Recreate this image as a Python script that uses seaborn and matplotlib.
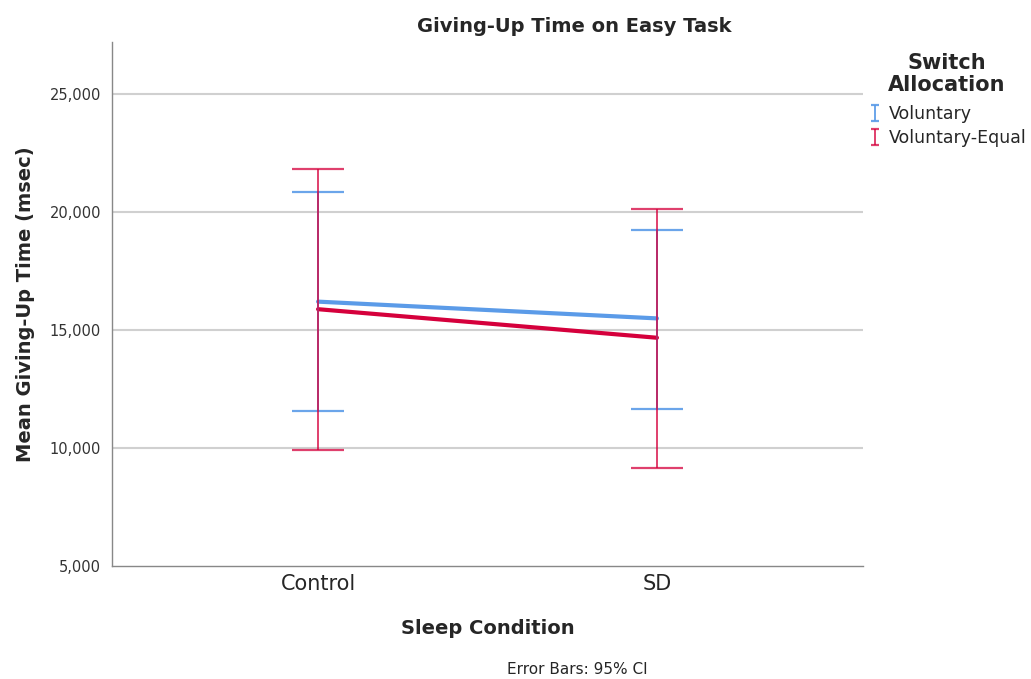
import matplotlib
matplotlib.use("Agg")
import matplotlib.pyplot as plt
import seaborn as sns
import pandas as pd
from matplotlib.ticker import FuncFormatter
from matplotlib.legend_handler import HandlerErrorbar
from matplotlib.lines import Line2D

# ---- data ----
conditions = ["Control", "SD"]
groups = ["Voluntary", "Voluntary-Equal"]
mean_voluntary = [16200, 15490]
mean_vol_equal = [15880, 14670]
ci_low_voluntary = [11570, 11670]
ci_high_voluntary = [20850, 19240]
ci_low_vol_equal = [9930, 9170]
ci_high_vol_equal = [21810, 20130]
yticks = [5000, 10000, 15000, 20000, 25000]

colors = {"Voluntary": "#5b9be8", "Voluntary-Equal": "#d5003c"}

df = pd.DataFrame({
    "Sleep Condition": conditions * 2,
    "Switch Allocation": [groups[0]] * 2 + [groups[1]] * 2,
    "Mean": mean_voluntary + mean_vol_equal,
    "Low": ci_low_voluntary + ci_low_vol_equal,
    "High": ci_high_voluntary + ci_high_vol_equal,
})

sns.set_style("white")
plt.rcParams['font.family'] = ['DejaVu Sans']

fig = plt.figure(figsize=(10.31, 6.79), dpi=100)
ax = fig.add_axes([112/1031, 1-566/679, (863-112)/1031, (566-42)/679])

sns.lineplot(data=df, x="Sleep Condition", y="Mean", hue="Switch Allocation",
             palette=colors, linewidth=3.0, ax=ax, legend=False, zorder=4, sort=False)

handles = []
for g, a in zip(groups, [0.9, 0.75]):
    sub = df[df["Switch Allocation"] == g]
    yerr = [sub["Mean"] - sub["Low"], sub["High"] - sub["Mean"]]
    c = ax.errorbar(sub["Sleep Condition"], sub["Mean"], yerr=yerr, fmt="none",
                    ecolor=colors[g], elinewidth=1.4, capsize=19, capthick=1.6,
                    alpha=a, zorder=5, label=g)
    handles.append(c)

ax.set_xlim(-0.608, 1.608)
ax.set_ylim(5000, 27200)
ax.set_yticks(yticks)
ax.yaxis.set_major_formatter(FuncFormatter(lambda v, p: f"{int(v):,}"))
ax.tick_params(axis="y", labelsize=10.5, length=0, pad=8, colors="#333333")
ax.tick_params(axis="x", labelsize=15, length=0, pad=6)
for t in yticks[1:]:
    ax.axhline(t, color="#d0d0d0", lw=1.5, zorder=1)
for s in ["top", "right"]:
    ax.spines[s].set_visible(False)
for s in ["left", "bottom"]:
    ax.spines[s].set_color("#888888")
    ax.spines[s].set_linewidth(1.0)

ax.set_xlabel("Sleep Condition", fontsize=14, fontweight="bold", labelpad=18)
ax.set_ylabel("Mean Giving-Up Time (msec)", fontsize=14, fontweight="bold", labelpad=10)

fig.text(574/1031, 1-26/679, "Giving-Up Time on Easy Task", ha="center", va="center",
         fontsize=14, fontweight="bold")
fig.text(577/1031, 1-670/679, "Error Bars: 95% CI", ha="center", va="center", fontsize=11)

# legend title
fig.text(947/1031, 1-74/679, "Switch\nAllocation", ha="center", va="center",
         fontsize=15, fontweight="bold", linespacing=1.1)


def small_caps(legend_artist, orig):
    legend_artist.update_from(orig)
    if isinstance(legend_artist, Line2D):
        legend_artist.set_markersize(6)
        legend_artist.set_markeredgewidth(1.6)


hmap = {h: HandlerErrorbar(yerr_size=0.45, update_func=small_caps) for h in handles}
leg = fig.legend(handles=handles, labels=groups, loc="upper left",
                 bbox_to_anchor=(871/1031, 1-105/679), frameon=False,
                 fontsize=12.5, handlelength=0.5, handletextpad=0.55, labelspacing=0.35,
                 borderpad=0, borderaxespad=0, handler_map=hmap)

fig.savefig("out.png", dpi=100)
